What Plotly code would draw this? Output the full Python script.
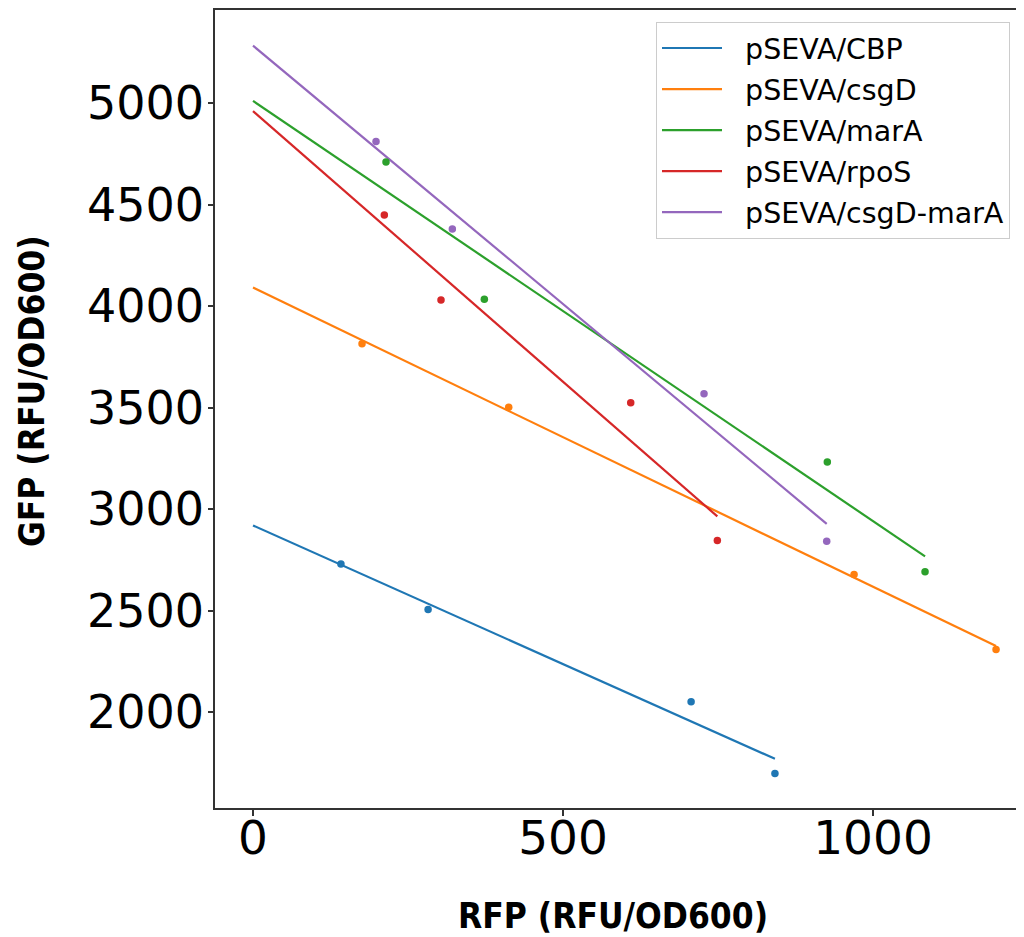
import numpy as np
import plotly.graph_objects as go

# ---- data ----
names = ["pSEVA/CBP", "pSEVA/csgD", "pSEVA/marA", "pSEVA/rpoS", "pSEVA/csgD-marA"]
colors = ["#1f77b4", "#ff7f0e", "#2ca02c", "#d62728", "#9467bd"]

cbp_x = [141.8, 282.4, 706.6, 841.8]
cbp_y = [2730, 2506, 2051, 1698]
csgd_x = [175.8, 412.4, 969.4, 1198.4]
csgd_y = [3814, 3502, 2678, 2309]
mara_x = [214.5, 373.1, 926.3, 1083.9]
mara_y = [4709, 4033, 3232, 2691]
rpos_x = [211.8, 303.2, 609.2, 748.9]
rpos_y = [4448, 4030, 3524, 2846]
csgdmara_x = [198.4, 321.5, 727.4, 925.3]
csgdmara_y = [4811, 4379, 3568, 2842]

series_x = [cbp_x, csgd_x, mara_x, rpos_x, csgdmara_x]
series_y = [cbp_y, csgd_y, mara_y, rpos_y, csgdmara_y]

x_ticks = [0, 500, 1000]
y_ticks = [2000, 2500, 3000, 3500, 4000, 4500, 5000]

fig = go.Figure()

# regression lines (legend entries)
for i, (name, col, xs, ys) in enumerate(zip(names, colors, series_x, series_y)):
    slope, intercept = np.polyfit(xs, ys, 1)
    lx = np.array([0.0, max(xs)])
    ly = slope * lx + intercept
    fig.add_trace(go.Scatter(
        x=lx, y=ly, mode="lines", name="\u00a0\u00a0" + name,
        line=dict(color=col, width=2.2),
        legendgroup=f"g{i}", showlegend=True,
    ))

# data points
for i, (name, col, xs, ys) in enumerate(zip(names, colors, series_x, series_y)):
    fig.add_trace(go.Scatter(
        x=xs, y=ys, mode="markers", name=name,
        marker=dict(color=col, size=7.5, line=dict(width=0)),
        legendgroup=f"g{i}", showlegend=False,
    ))

title_font = dict(family="DejaVu Sans Condensed, Liberation Sans Narrow, sans-serif",
                  size=35, color="black", weight="bold")

# the page body adds an 8px offset; sizes/margins compensate for it
fig.update_layout(
    width=1016, height=929,
    margin=dict(l=207, r=0, t=0, b=129),
    paper_bgcolor="white", plot_bgcolor="white",
    showlegend=True,
    legend=dict(
        x=(656 - 215) / 809, xanchor="left", y=0.985, yanchor="top",
        font=dict(family="DejaVu Sans", size=28.5, color="black"),
        bordercolor="#cccccc", borderwidth=1, bgcolor="rgba(255,255,255,0.8)",
        tracegroupgap=1, itemwidth=60,
    ),
    xaxis=dict(
        range=[-61.3, 1243.5], tickvals=x_ticks, ticktext=[str(v) for v in x_ticks],
        showgrid=False, zeroline=False,
        showline=True, linecolor="#333333", linewidth=1.5, mirror=True,
        ticks="outside", ticklen=6, tickcolor="#333333", tickwidth=1.5,
        tickfont=dict(family="DejaVu Sans", size=47, color="black"),
        ticklabelstandoff=-18,
    ),
    yaxis=dict(
        range=[1528, 5458], tickvals=y_ticks, ticktext=[str(v) for v in y_ticks],
        showgrid=False, zeroline=False,
        showline=True, linecolor="#333333", linewidth=1.5, mirror=False,
        ticks="outside", ticklen=5, tickcolor="#333333", tickwidth=1.5,
        tickfont=dict(family="DejaVu Sans", size=46, color="black"),
        ticklabelstandoff=-5,
    ),
    annotations=[
        dict(text="RFP (RFU/OD600)", xref="paper", yref="paper",
             x=(613 - 215) / 809, y=(808 - 916) / 800,
             xanchor="center", yanchor="middle", showarrow=False, font=title_font),
        dict(text="GFP (RFU/OD600)", xref="paper", yref="paper",
             x=(32 - 215) / 809, y=(808 - 390) / 800, textangle=-90,
             xanchor="center", yanchor="middle", showarrow=False, font=title_font),
    ],
)

fig.write_html("out.html")
